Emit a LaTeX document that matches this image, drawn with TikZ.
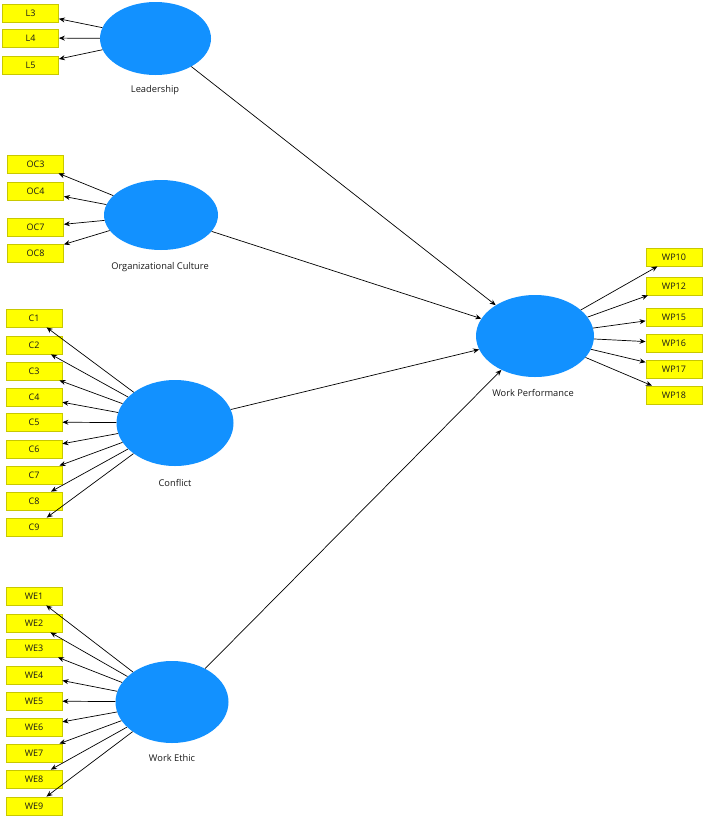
\documentclass[tikz,border=0pt]{standalone}
\usepackage{fontspec}
\setmainfont{Open Sans}
\usetikzlibrary{shapes.geometric,arrows.meta}
\definecolor{lvblue}{RGB}{18,145,255}
\definecolor{indyel}{RGB}{255,255,0}
\definecolor{indbrd}{RGB}{200,200,0}
\definecolor{txt}{RGB}{25,25,25}
\begin{document}
\begin{tikzpicture}[x=1pt,y=-1pt,
  ind/.style={draw=indbrd,fill=indyel,line width=0.8pt,minimum width=56pt,minimum height=18pt,inner sep=0pt,font=\fontsize{9}{10}\selectfont,text=txt},
  lv/.style={ellipse,fill=lvblue,draw=none,inner sep=0pt},
  lab/.style={font=\fontsize{9.3}{10}\selectfont,text=txt},
  arr/.style={-{Stealth[length=6pt,width=5pt]},line width=0.7pt,black}]
\useasboundingbox (0,0) rectangle (705,817);
\fill[white] (0,0) rectangle (705,817);
% latent variables
\node[lv,minimum width=111pt,minimum height=73pt] (L) at (155.5,38.5) {};
\node[lv,minimum width=114pt,minimum height=70pt] (OC) at (161,215) {};
\node[lv,minimum width=117pt,minimum height=86pt] (C) at (175,423) {};
\node[lv,minimum width=113pt,minimum height=82pt] (WE) at (172,702) {};
\node[lv,minimum width=118pt,minimum height=82pt] (WP) at (535,336) {};
\node[lab] (Llab) at (155,90) {Leadership};
\node[lab] (OClab) at (160,267) {Organizational Culture};
\node[lab] (Clab) at (175,483) {Conflict};
\node[lab] (WElab) at (172,758) {Work Ethic};
\node[lab] (WPlab) at (533,393) {Work Performance};
% indicators
\node[ind] (L3) at (30.5,13) {L3};
\node[ind] (L4) at (30.5,38) {L4};
\node[ind] (L5) at (30.5,65) {L5};
\node[ind] (OC3) at (35.5,164) {OC3};
\node[ind] (OC4) at (35.5,191) {OC4};
\node[ind] (OC7) at (35.5,227) {OC7};
\node[ind] (OC8) at (35.5,253) {OC8};
\foreach \n/\y in {1/318,2/345,3/371,4/397,5/422,6/449,7/475,8/501,9/527}
  \node[ind] (C\n) at (34,\y) {C\n};
\foreach \n/\y in {1/596,2/623,3/648,4/675,5/701,6/727,7/753,8/779,9/806}
  \node[ind] (WE\n) at (34,\y) {WE\n};
\foreach \n/\y in {10/257,12/286,15/317,16/343,17/369,18/395}
  \node[ind] (WP\n) at (674,\y) {WP\n};
% loadings
\foreach \t in {L3,L4,L5} \draw[arr] (L) -- (\t);
\foreach \t in {OC3,OC4,OC7,OC8} \draw[arr] (OC) -- (\t);
\foreach \n in {1,...,9} \draw[arr] (C) -- (C\n);
\foreach \n in {1,...,9} \draw[arr] (WE) -- (WE\n);
\foreach \n in {10,12,15,16,17,18} \draw[arr] (WP) -- (WP\n);
% paths
\draw[arr] (L) -- (WP);
\draw[arr] (OC) -- (WP);
\draw[arr] (C) -- (WP);
\draw[arr] (WE) -- (WP);
\end{tikzpicture}
\end{document}
